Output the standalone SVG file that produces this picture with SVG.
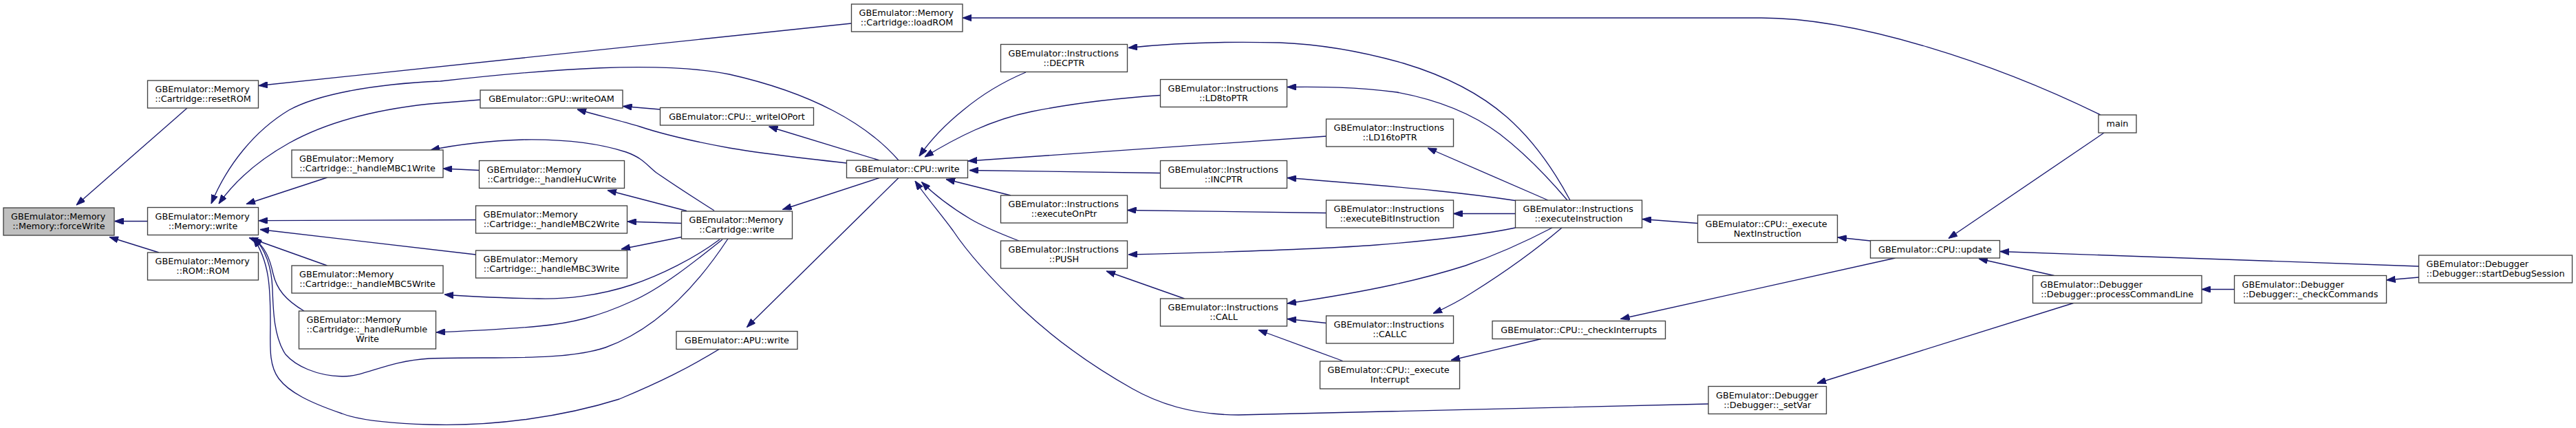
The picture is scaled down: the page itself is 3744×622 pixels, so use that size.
<svg xmlns="http://www.w3.org/2000/svg" width="3744" height="622" viewBox="0 0 3744 622">
<style>
.n rect{fill:#ffffff;stroke:#404040;stroke-width:1.33}
.n rect.root{fill:#bfbfbf}
.n text{font-family:"DejaVu Sans",sans-serif;font-size:12.8px;fill:#000000}
.m{text-anchor:middle}
.e path{fill:none;stroke:#191970;stroke-width:1.33;marker-end:url(#a)}
</style>
<defs>
<marker id="a" viewBox="0 0 13 9.4" refX="13" refY="4.7" markerWidth="13" markerHeight="9.4" markerUnits="userSpaceOnUse" orient="auto">
<path d="M0,0L13,4.7L0,9.4z" fill="#191970" stroke="#191970" stroke-width="1"/>
</marker>
</defs>
<rect width="3744" height="622" fill="#ffffff"/>
<g class="e" id="edges">
<path d="M272,157 L111,298"/>
<path d="M214.5,321.5 L166.5,321.5"/>
<path d="M231,367 L159,344.5"/>
<path d="M1237.5,34 L376,124.5"/>
<path d="M3053,167 C2900,92 2700,26 2560,26 L1399,26"/>
<path d="M1306,233 C1260,180 1180,135 1060,108 C960,88 800,100 640,118 C540,122 460,138 420,160 C370,190 330,240 307,296"/>
<path d="M698,145 L624,151 C540,160 470,180 420,208 C370,236 340,265 318,296"/>
<path d="M475.5,258 L358,296.5"/>
<path d="M691.5,319.5 L376,320.7"/>
<path d="M691.5,370 L378,333.5"/>
<path d="M475.5,386 L362,345.5"/>
<path d="M442,452 C415,436 402,420 397,398 C392,375 385,358 367,345"/>
<path d="M1058,347 C1010,420 950,480 880,505 C820,525 720,518 624,521 C560,525 530,548 497,547 C460,546 430,532 415,515 C398,490 397,450 396,420 C395,390 386,360 368,346"/>
<path d="M1046,507 C1000,535 960,555 900,580 C820,605 720,620 624,617 C560,615 520,610 497,601 C450,585 420,570 405,550 C390,530 393,500 393,470 C393,420 392,380 368,346"/>
<path d="M1038,306 C1000,282 970,262 954,251 C940,240 935,230 910,221 C870,208 820,202 760,203 C700,205 660,211 626,218"/>
<path d="M998,306.5 L883,276.5"/>
<path d="M990.5,324.5 L912,322"/>
<path d="M990.5,344.5 L903,362"/>
<path d="M1046,348 C1010,375 960,400 918,414 C870,430 820,435 783,434 C730,433 690,432 646,428"/>
<path d="M1050,348 C1010,380 960,420 918,438 C870,460 830,470 783,474 C730,479 680,481 634,483"/>
<path d="M696.5,247.5 L644,245"/>
<path d="M959.5,159 L905.5,154.5"/>
<path d="M1230.5,237 C1150,228 1100,222 1060,215 C1000,204 960,194 930,184 C900,175 870,168 839,159"/>
<path d="M1278,233 L1117.5,184"/>
<path d="M1278,258.5 L1137.5,304.5"/>
<path d="M1306,258.5 L1085.5,475.5"/>
<path d="M1491,105 C1460,118 1430,135 1400,160 C1375,180 1355,200 1336,227"/>
<path d="M1686.5,138.5 C1620,143 1560,150 1500,162 C1440,174 1390,200 1344,228"/>
<path d="M1927.5,198 L1407,234"/>
<path d="M1686.5,251.5 L1409,247.5"/>
<path d="M1469,284 L1375,260.5"/>
<path d="M1481,350 C1455,340 1430,330 1410,318 C1385,303 1360,285 1339.5,264.5"/>
<path d="M2483,587 L1800,603 C1740,603 1690,590 1646,565 C1580,528 1530,490 1487,450 C1440,405 1405,365 1385,335 C1365,308 1345,285 1330,263"/>
<path d="M2282,291 C2260,250 2230,205 2190,170 C2150,135 2100,110 2040,92 C1970,72 1910,64 1860,62 C1780,60 1700,63 1640,69.5"/>
<path d="M2278,291 C2250,258 2215,222 2180,195 C2140,165 2090,145 2030,134 C1970,126 1920,126 1871,126.5"/>
<path d="M2250,291 L2075,215"/>
<path d="M2202.5,291.5 C2140,282 2070,274 1871,258.5"/>
<path d="M2202.5,310.5 L2112.5,310.5"/>
<path d="M1927.5,309.5 L1638.5,305.5"/>
<path d="M2202.5,331 C2160,340 2100,348 2000,356 C1920,362 1800,366 1640,370"/>
<path d="M1721.5,434 L1608,394"/>
<path d="M2256,331 C2210,355 2170,372 2130,386 C2070,405 2000,422 1871,441"/>
<path d="M1927.5,469.5 L1871,463.5"/>
<path d="M2270,331 C2230,365 2180,400 2140,425 C2120,438 2100,448 2083,455.5"/>
<path d="M1951.5,524.5 L1829,479.5"/>
<path d="M2240,492.5 L2109,523.5"/>
<path d="M2754.5,375 L2355.5,463.5"/>
<path d="M2467.5,324.5 L2387,318.5"/>
<path d="M2718.5,350 L2671,345"/>
<path d="M3058,193 L2832,346.5"/>
<path d="M3515.5,387 L2907,365.5"/>
<path d="M2985.5,400.5 L2876,376"/>
<path d="M3013.5,440.5 L2641,557"/>
<path d="M3247.5,420.5 L3200,420.5"/>
<path d="M3515.5,403 L3468.5,407"/>
</g>
<g class="n" id="n_forceWrite"><rect class="root" x="5" y="302" width="161" height="40"/><text x="16" y="319">GBEmulator::Memory</text><text class="m" x="85.5" y="333">::Memory::forceWrite</text></g>
<g class="n" id="n_resetROM"><rect x="214.5" y="117" width="161" height="40"/><text x="225.5" y="134">GBEmulator::Memory</text><text class="m" x="295" y="148">::Cartridge::resetROM</text></g>
<g class="n" id="n_memwrite"><rect x="214.5" y="301.5" width="161" height="40"/><text x="225.5" y="318.5">GBEmulator::Memory</text><text class="m" x="295" y="332.5">::Memory::write</text></g>
<g class="n" id="n_ROM"><rect x="214.5" y="367" width="161" height="40"/><text x="225.5" y="384">GBEmulator::Memory</text><text class="m" x="295" y="398">::ROM::ROM</text></g>
<g class="n" id="n_MBC1"><rect x="424" y="218" width="220" height="40"/><text x="435" y="235">GBEmulator::Memory</text><text class="m" x="534" y="249">::Cartridge::_handleMBC1Write</text></g>
<g class="n" id="n_MBC5"><rect x="424" y="386" width="220" height="40"/><text x="435" y="403">GBEmulator::Memory</text><text class="m" x="534" y="417">::Cartridge::_handleMBC5Write</text></g>
<g class="n" id="n_Rumble"><rect x="434.5" y="452" width="199" height="55"/><text x="445.5" y="469">GBEmulator::Memory</text><text x="445.5" y="483">::Cartridge::_handleRumble</text><text class="m" x="534" y="497">Write</text></g>
<g class="n" id="n_writeOAM"><rect x="698" y="131" width="207" height="26"/><text class="m" x="801.5" y="148">GBEmulator::GPU::writeOAM</text></g>
<g class="n" id="n_writeIOPort"><rect x="959.5" y="156.5" width="223" height="25.5"/><text class="m" x="1071" y="173.5">GBEmulator::CPU::_writeIOPort</text></g>
<g class="n" id="n_HuC"><rect x="696.5" y="233.5" width="211" height="40"/><text x="707.5" y="250.5">GBEmulator::Memory</text><text class="m" x="802" y="264.5">::Cartridge::_handleHuCWrite</text></g>
<g class="n" id="n_MBC2"><rect x="691.5" y="299" width="220" height="40"/><text x="702.5" y="316">GBEmulator::Memory</text><text class="m" x="801.5" y="330">::Cartridge::_handleMBC2Write</text></g>
<g class="n" id="n_MBC3"><rect x="691.5" y="364" width="220" height="40"/><text x="702.5" y="381">GBEmulator::Memory</text><text class="m" x="801.5" y="395">::Cartridge::_handleMBC3Write</text></g>
<g class="n" id="n_CartWrite"><rect x="990.5" y="307" width="161" height="40"/><text x="1001.5" y="324">GBEmulator::Memory</text><text class="m" x="1071" y="338">::Cartridge::write</text></g>
<g class="n" id="n_APUwrite"><rect x="983" y="481.5" width="176" height="26"/><text class="m" x="1071" y="498.5">GBEmulator::APU::write</text></g>
<g class="n" id="n_loadROM"><rect x="1237.5" y="6" width="161.5" height="40"/><text x="1248.5" y="23">GBEmulator::Memory</text><text class="m" x="1318" y="37">::Cartridge::loadROM</text></g>
<g class="n" id="n_CPUwrite"><rect x="1230.5" y="233" width="176" height="25.5"/><text class="m" x="1318.5" y="250">GBEmulator::CPU::write</text></g>
<g class="n" id="n_DECPTR"><rect x="1454.5" y="64.5" width="184" height="40"/><text x="1465.5" y="81.5">GBEmulator::Instructions</text><text class="m" x="1546.5" y="95.5">::DECPTR</text></g>
<g class="n" id="n_LD8toPTR"><rect x="1686.5" y="115.5" width="184" height="40"/><text x="1697.5" y="132.5">GBEmulator::Instructions</text><text class="m" x="1778.5" y="146.5">::LD8toPTR</text></g>
<g class="n" id="n_INCPTR"><rect x="1686.5" y="233.5" width="184" height="40"/><text x="1697.5" y="250.5">GBEmulator::Instructions</text><text class="m" x="1778.5" y="264.5">::INCPTR</text></g>
<g class="n" id="n_executeOnPtr"><rect x="1454.5" y="284" width="184" height="40"/><text x="1465.5" y="301">GBEmulator::Instructions</text><text class="m" x="1546.5" y="315">::executeOnPtr</text></g>
<g class="n" id="n_PUSH"><rect x="1454.5" y="350" width="184" height="40"/><text x="1465.5" y="367">GBEmulator::Instructions</text><text class="m" x="1546.5" y="381">::PUSH</text></g>
<g class="n" id="n_CALL"><rect x="1686.5" y="434" width="184" height="40"/><text x="1697.5" y="451">GBEmulator::Instructions</text><text class="m" x="1778.5" y="465">::CALL</text></g>
<g class="n" id="n_LD16toPTR"><rect x="1927.5" y="173" width="185" height="40"/><text x="1938.5" y="190">GBEmulator::Instructions</text><text class="m" x="2020" y="204">::LD16toPTR</text></g>
<g class="n" id="n_executeBitInstruction"><rect x="1927.5" y="291" width="185" height="40"/><text x="1938.5" y="308">GBEmulator::Instructions</text><text class="m" x="2020" y="322">::executeBitInstruction</text></g>
<g class="n" id="n_executeInstruction"><rect x="2202.5" y="291" width="184" height="40"/><text x="2213.5" y="308">GBEmulator::Instructions</text><text class="m" x="2294.5" y="322">::executeInstruction</text></g>
<g class="n" id="n_CALLC"><rect x="1927.5" y="459" width="185" height="40"/><text x="1938.5" y="476">GBEmulator::Instructions</text><text class="m" x="2020" y="490">::CALLC</text></g>
<g class="n" id="n_executeInterrupt"><rect x="1918.5" y="525" width="203" height="40"/><text x="1929.5" y="542">GBEmulator::CPU::_execute</text><text class="m" x="2020" y="556">Interrupt</text></g>
<g class="n" id="n_checkInterrupts"><rect x="2169" y="466.5" width="251.5" height="26"/><text class="m" x="2294.75" y="483.5">GBEmulator::CPU::_checkInterrupts</text></g>
<g class="n" id="n_executeNextInstruction"><rect x="2467.5" y="312.5" width="203" height="40"/><text x="2478.5" y="329.5">GBEmulator::CPU::_execute</text><text class="m" x="2569" y="343.5">NextInstruction</text></g>
<g class="n" id="n_setVar"><rect x="2483" y="561.5" width="171.5" height="40"/><text x="2494" y="578.5">GBEmulator::Debugger</text><text class="m" x="2568.75" y="592.5">::Debugger::_setVar</text></g>
<g class="n" id="n_main"><rect x="3050" y="167" width="55" height="26"/><text class="m" x="3077.5" y="184">main</text></g>
<g class="n" id="n_update"><rect x="2718.5" y="349.5" width="188" height="25.5"/><text class="m" x="2812.5" y="366.5">GBEmulator::CPU::update</text></g>
<g class="n" id="n_processCommandLine"><rect x="2954.5" y="400.5" width="245.5" height="40"/><text x="2965.5" y="417.5">GBEmulator::Debugger</text><text class="m" x="3077.25" y="431.5">::Debugger::processCommandLine</text></g>
<g class="n" id="n_checkCommands"><rect x="3247.5" y="400.5" width="221" height="40"/><text x="3258.5" y="417.5">GBEmulator::Debugger</text><text class="m" x="3358" y="431.5">::Debugger::_checkCommands</text></g>
<g class="n" id="n_startDebugSession"><rect x="3515.5" y="371" width="223" height="40"/><text x="3526.5" y="388">GBEmulator::Debugger</text><text class="m" x="3627" y="402">::Debugger::startDebugSession</text></g>
</svg>
